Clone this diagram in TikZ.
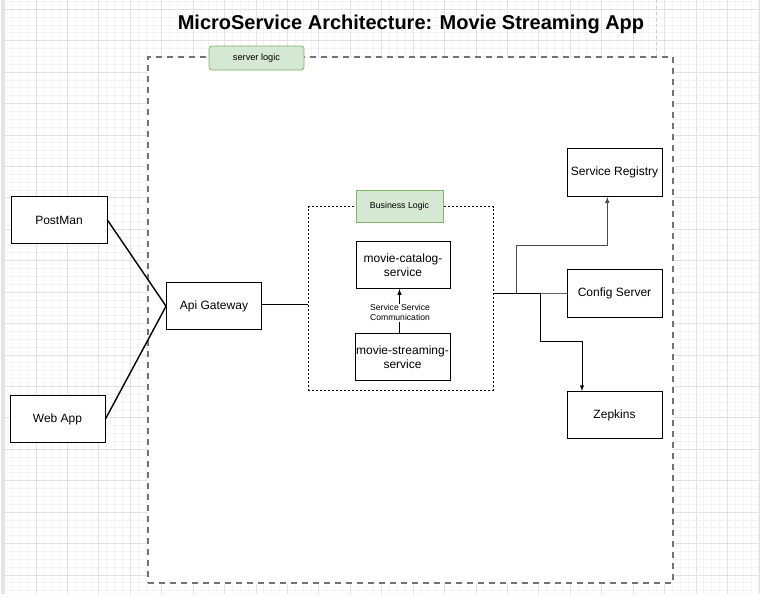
\documentclass[tikz,border=0pt]{standalone}
\usepackage{fontspec}
\setmainfont{Liberation Sans}
\usetikzlibrary{arrows}
\definecolor{greenfill}{HTML}{D5E8D4}
\definecolor{greenline}{HTML}{82B366}
\definecolor{gridmajor}{HTML}{E2E2E2}
\definecolor{gridminor}{HTML}{F3F3F3}

\begin{document}
\begin{tikzpicture}[x=1pt,y=-1pt]

\tikzstyle{service}=[rectangle, draw=black, line width=0.9pt, fill=white, minimum width=95pt, minimum height=47pt, align=center, font=\fontsize{12}{14}\selectfont, inner sep=1pt]
\tikzstyle{tag}=[rectangle, draw=greenline, fill=greenfill, line width=0.8pt, minimum height=24pt, font=\fontsize{9.2}{11}\selectfont]
\tikzstyle{connect}=[-latex, line width=1pt]
\tikzstyle{wire}=[line width=1.4pt]
\tikzstyle{majorline}=[draw=gridmajor, line width=0.8pt]
\tikzstyle{minorline}=[draw=gridminor, line width=0.8pt]

\useasboundingbox (0,0) rectangle (760,597);

% grid paper
\fill[white] (0,0) rectangle (760,597);
\foreach \i in {0,...,96} \draw[minorline] ({4.57+7.857*\i},0) -- ({4.57+7.857*\i},594);
\foreach \j in {0,...,75} \draw[minorline] (5,{1.44+7.857*\j}) -- (760,{1.44+7.857*\j});
\foreach \i in {0,...,24} \draw[majorline] ({4.57+31.43*\i},0) -- ({4.57+31.43*\i},594);
\foreach \j in {0,...,18} \draw[majorline] (5,{9.3+31.43*\j}) -- (760,{9.3+31.43*\j});
\fill[gray!20] (1,0) rectangle (5,594);
\draw[gray!40, dash pattern=on 3pt off 3pt, line width=1pt] (656,0) -- (656,60);

\node[font=\fontsize{20}{24}\selectfont\bfseries] (title) at (411,24) {MicroService Architecture: Movie Streaming App};

\node[rectangle, draw=black!55, fill=white, line width=1.1pt, dash pattern=on 6pt off 5pt, minimum width=525pt, minimum height=526pt] (server) at (410.5,320) {};
\node[tag, rounded corners=3pt, minimum width=95pt] (servertag) at (256.5,58) {server logic};

\node[rectangle, draw=black, line width=0.7pt, dash pattern=on 2pt off 2pt, minimum width=185pt, minimum height=183.5pt] (business) at (400.8,298.3) {};
\node[tag, minimum width=87pt, minimum height=32pt, font=\fontsize{8.8}{11}\selectfont] (businesstag) at (399.5,206.3) {Business Logic};

\node[service, minimum width=96pt] (postman) at (59,220) {PostMan};
\node[service] (webapp) at (57.5,419) {Web App};
\node[service] (gateway) at (214,306.2) {Api Gateway};

\node[service, minimum width=94pt] (catalog) at (403,265) {movie-catalog-\\service};
\node[service] (streaming) at (402.5,357) {movie-streaming-\\service};

\node[service, minimum height=48pt] (registry) at (614.5,172.5) {Service Registry};
\node[service, minimum height=48pt] (config) at (614.5,293.5) {Config Server};
\node[service] (zepkins) at (614.5,415) {Zepkins};

\coordinate (hub) at (516.7,293.3);
\coordinate (split) at (540,293.3);

\path (postman.east) [wire] edge (gateway.west);
\path (webapp.east) [wire] edge (gateway.west);
\draw[wire] ([yshift=1.5pt]gateway.east) -- ([yshift=1.5pt]gateway.east -| business.west);

\draw[connect] ([xshift=-3pt]streaming.north) -- ([xshift=-3pt]streaming.north |- catalog.south);
\node[fill=white, inner sep=1pt, align=center, font=\fontsize{8.6}{10}\selectfont] (comm) at (400,312.7) {Service Service\\Communication};

\draw[line width=1pt] (business.east |- hub) -- (split);
\draw[gray!80!black, line width=1pt] (split) -- (split -| config.west);
\draw[connect, gray!60!black] (hub) -- ++(0,-47.6) -| ([xshift=-7.2pt]registry.south);
\draw[connect] (split) -- ++(0,48.4) -| ([xshift=-32.5pt]zepkins.north);

\end{tikzpicture}
\end{document}
